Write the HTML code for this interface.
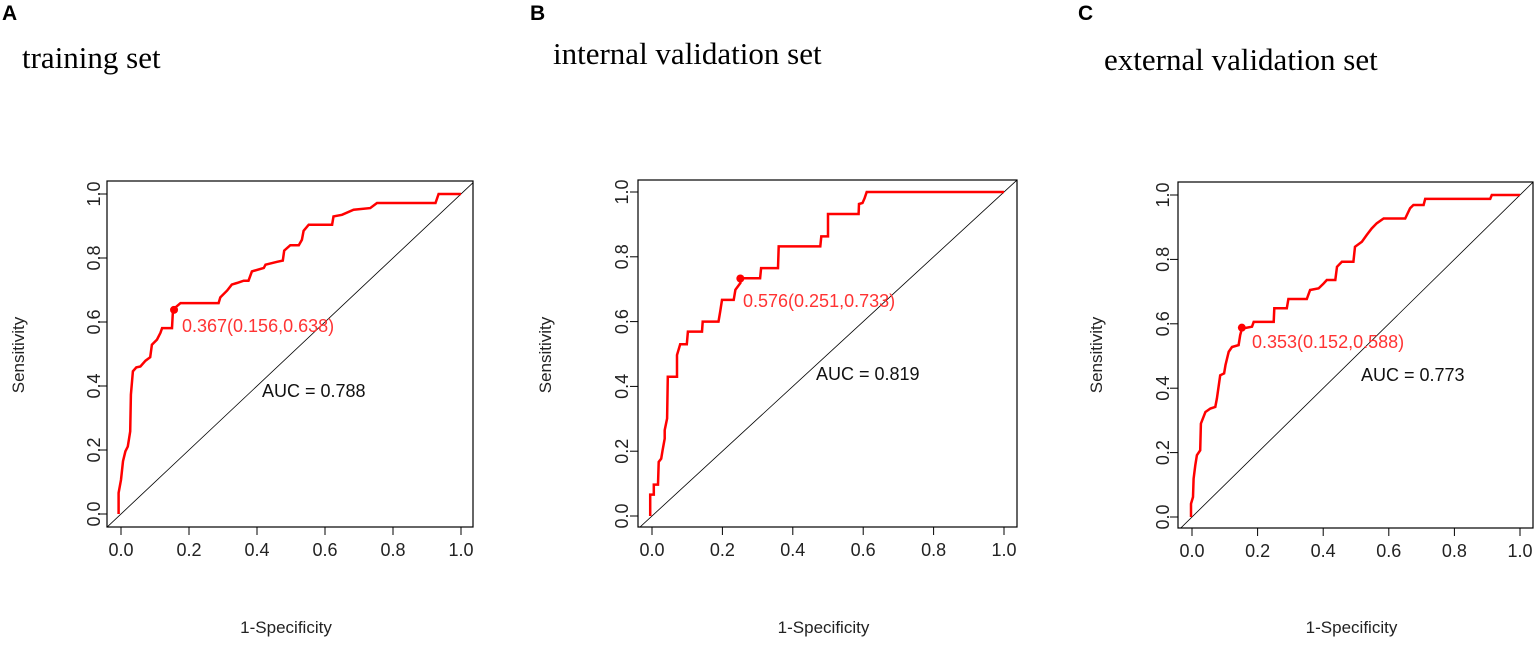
<!DOCTYPE html>
<html><head><meta charset="utf-8"><style>
html,body{margin:0;padding:0;background:#fff;width:1536px;height:652px;overflow:hidden}
svg{display:block}
</style></head><body>
<svg id="chart" width="1536" height="652" xmlns="http://www.w3.org/2000/svg" font-family="Liberation Sans, Arial, sans-serif" overflow="hidden"></svg>
<script>
const ticks=[0,0.2,0.4,0.6,0.8,1.0];
const tickLabels=["0.0","0.2","0.4","0.6","0.8","1.0"];
const fprA=[-.007,-.007,0,.006,.013,.02,.027,.029,.035,.045,.057,.072,.086,.091,.106,.116,.121,.15,.153,.175,.287,.292,.312,.326,.341,.361,.375,.385,.42,.425,.459,.476,.48,.498,.523,.532,.537,.552,.621,.625,.65,.684,.733,.753,.925,.934,1];
const tprA=[0,.066,.107,.165,.196,.211,.258,.373,.446,.458,.461,.479,.49,.529,.545,.566,.581,.581,.639,.659,.659,.677,.698,.717,.722,.729,.729,.758,.769,.779,.788,.792,.823,.84,.84,.857,.885,.904,.904,.93,.935,.951,.956,.972,.972,1,1];
const fprB=[-.005,-.005,.005,.005,.017,.019,.026,.03,.036,.036,.043,.045,.071,.071,.08,.099,.102,.142,.144,.189,.194,.199,.232,.237,.251,.251,.307,.31,.358,.36,.478,.481,.5,.5,.587,.588,.598,.604,.61,1];
const tprB=[0,.066,.066,.097,.097,.167,.177,.203,.239,.265,.301,.43,.43,.497,.53,.53,.569,.569,.6,.6,.633,.667,.667,.698,.719,.734,.734,.765,.765,.832,.832,.863,.863,.932,.932,.963,.966,.981,1,1];
const fprC=[-.003,-.003,.003,.005,.01,.015,.025,.027,.041,.056,.071,.076,.086,.098,.102,.112,.122,.142,.147,.152,.183,.188,.249,.251,.289,.294,.35,.36,.386,.401,.411,.437,.442,.457,.492,.497,.518,.533,.548,.563,.584,.65,.665,.675,.706,.711,.909,.914,1];
const tprC=[0,.041,.062,.119,.161,.192,.207,.29,.326,.337,.342,.368,.44,.446,.472,.513,.528,.534,.565,.585,.591,.606,.606,.648,.648,.677,.677,.705,.71,.725,.736,.736,.777,.793,.793,.839,.855,.876,.896,.912,.927,.927,.959,.969,.969,.988,.988,1,1];
const cutA=[0.156,0.638], cutB=[0.251,0.733], cutC=[0.152,0.588];
const NS="http://www.w3.org/2000/svg", svg=document.getElementById('chart');
function el(t,a,p){const e=document.createElementNS(NS,t);for(const k in a)e.setAttribute(k,a[k]);(p||svg).appendChild(e);return e;}
const panels=[
 {id:'a',letter:'A',title:'training set',tx:22,ty:68,box:[107,181,473,527],x0:121,x1:461,y0:514,y1:194,fpr:fprA,tpr:tprA,cut:cutA,lab:'0.367(0.156,0.638)',lx:182,ly:332,auc:'AUC = 0.788',ax:262,ay:397,ylx:100,sx:24},
 {id:'b',letter:'B',title:'internal validation set',tx:553,ty:64,box:[638,180,1017,527],x0:652,x1:1004,y0:516,y1:192,fpr:fprB,tpr:tprB,cut:cutB,lab:'0.576(0.251,0.733)',lx:743,ly:307,auc:'AUC = 0.819',ax:816,ay:380,ylx:628,sx:551},
 {id:'c',letter:'C',title:'external validation set',tx:1104,ty:70,box:[1178,182,1533,528],x0:1192,x1:1520,y0:517,y1:195,fpr:fprC,tpr:tprC,cut:cutC,lab:'0.353(0.152,0.588)',lx:1252,ly:348,auc:'AUC = 0.773',ax:1361,ay:381,ylx:1169,sx:1102}
];
panels.forEach(p=>{
 const g=el('g',{});
 
 
 const X=v=>p.x0+v*(p.x1-p.x0), Y=v=>p.y0+v*(p.y1-p.y0);
 const L=el('text',{x:2+(p.id==='a'?0:(p.id==='b'?528:1076)),y:20,'font-size':21,'font-weight':'bold',fill:'#000'},g);L.textContent=p.letter;
 
 const T=el('text',{x:p.tx,y:p.ty,'font-size':31,'font-family':'Liberation Serif, serif',fill:'#000'},g);T.textContent=p.title;
 
 const [bx0,by0,bx1,by1]=p.box;
 const cid='clip'+p.id;const cp=el('clipPath',{id:cid},g);el('rect',{x:bx0,y:by0,width:bx1-bx0,height:by1-by0},cp);
 const d=el('line',{x1:X(-1),y1:Y(-1),x2:X(2),y2:Y(2),stroke:'#000','stroke-width':0.8,'clip-path':'url(#'+cid+')'},g);
 
 const pts=p.fpr.map((f,i)=>X(f).toFixed(1)+','+Y(p.tpr[i]).toFixed(1)).join(' ');
 const c=el('polyline',{points:pts,fill:'none',stroke:'#ff0000','stroke-width':2.5,'clip-path':'url(#'+cid+')'},g);
 
 const m=el('circle',{cx:X(p.cut[0]),cy:Y(p.cut[1]),r:4,fill:'#ff0000'},g);
 
 const b=el('rect',{x:bx0,y:by0,width:bx1-bx0,height:by1-by0,fill:'none',stroke:'#000','stroke-width':1.2},g);
 
 ticks.forEach((t,i)=>{
  el('line',{x1:X(t),x2:X(t),y1:by1,y2:by1+8,stroke:'#000','stroke-width':1},g);
  const xl=el('text',{x:X(t),y:by1+29,'font-size':18,'text-anchor':'middle',fill:'#222'},g);xl.textContent=tickLabels[i];
  
  el('line',{x1:bx0,x2:bx0-8,y1:Y(t),y2:Y(t),stroke:'#000','stroke-width':1},g);
  const yl=el('text',{x:p.ylx,y:Y(t),'font-size':18,'text-anchor':'middle',fill:'#222',transform:`rotate(-90 ${p.ylx} ${Y(t)})`},g);yl.textContent=tickLabels[i];
  
 });
 const xt=el('text',{x:(bx0+bx1)/2-4,y:633,'font-size':17,'text-anchor':'middle',fill:'#222'},g);xt.textContent='1-Specificity';
 
 const yt=el('text',{x:p.sx,y:355,'font-size':17,'text-anchor':'middle',fill:'#222',transform:`rotate(-90 ${p.sx} 355)`},g);yt.textContent='Sensitivity';
 
 const rl=el('text',{x:p.lx,y:p.ly,'font-size':18,fill:'#ff3333'},g);rl.textContent=p.lab;
 
 const al=el('text',{x:p.ax,y:p.ay,'font-size':18,fill:'#111'},g);al.textContent=p.auc;
 
});
</script>
</body></html>
